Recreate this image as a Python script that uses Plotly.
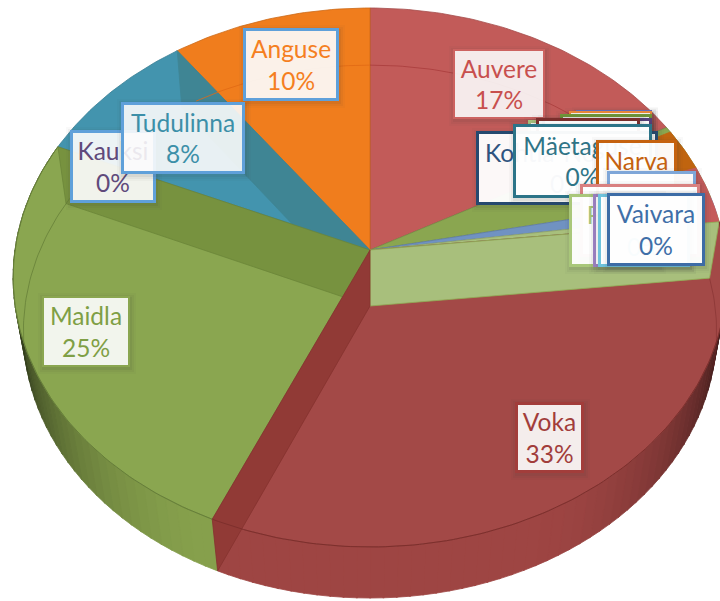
import numpy as np
import plotly.graph_objects as go

# ---- data (clockwise from 12 o'clock), percent of the pie
slice_names = ["Auvere", "Kohtla-Nõmme", "Lohusuu", "Püssi", "Voka", "Maidla", "Kauksi", "Tudulinna", "Anguse"]
slice_values = [17.0, 4.8, 1.0, 0.5, 33.3, 25.0, 0.0, 8.4, 10.0]

# ---- data labels, painted bottom to top
label_names = ["Auvere", "Anguse", "Kauksi", "Tudulinna", "Maidla", "Voka",
               "", "", "", "", "Lohusuu", "", "Kohtla-Nõmme", "Mäetaguse",
               "Narva", "", "Optika", "Püssi", "", "", "Vaivara"]
label_pcts = ["17%", "10%", "0%", "8%", "25%", "33%",
              "", "", "", "", "0%", "", "0%", "0%",
              "0%", "0%", "0%", "0%", "0%", "0%", "0%"]

# ---- styles
slice_colors = ["#C25B59", "#8AA650", "#7092C2", "#A8BF7C", "#A34947", "#8AA650", "#6C5A8E", "#4394AE", "#F07D1D"]
text_colors = ["#C8504E", "#F57F1F", "#604A7B", "#3C8FA8", "#7F9F45", "#A23D3B",
               "#777777", "#777777", "#777777", "#777777", "#604A7B", "#777777", "#2F5480", "#2F7486",
               "#C5620F", "#7EA6D8", "#D98080", "#A9C77A", "#8E6FB5", "#5FBBD5", "#3F6FA8"]
border_colors = ["#CC6260", "#5FA0DA", "#5FA0DA", "#5FA0DA", "#8AA650", "#A23D3B",
                 "#6A6FC0", "#ED8A3A", "#6F9638", "#A8BF7C", "#553F78", "#7B2E2C", "#25496F", "#2C7488",
                 "#C5620F", "#7EA6D8", "#D98080", "#A9C77A", "#9A7FC0", "#6FC3DC", "#3D6CA6"]
border_widths = [2, 3, 3, 3, 2, 3, 2, 2, 3, 3, 3, 3, 3, 3, 3, 3, 3, 3, 3, 3, 3]
fill_alphas = [0.88, 0.9, 0.9, 0.88, 0.9, 0.9, 0.96, 0.96, 0.96, 0.96, 0.96, 0.96, 0.96, 0.96,
               0.96, 0.96, 0.96, 0.96, 0.96, 0.96, 0.96]
box_x0 = [453, 243, 70, 121, 42, 515, 576, 569, 560, 528, 542, 536, 476, 513, 596, 607, 580, 569, 593, 598, 607]
box_x1 = [545, 339, 156, 245, 130, 584, 652, 652, 652, 640, 652, 640, 658, 652, 677, 696, 700, 660, 690, 690, 705]
box_y0 = [49, 28, 130, 102, 296, 402, 110, 111, 114, 120, 118, 118, 131, 124, 140, 171, 184, 194, 194, 194, 193]
box_y1 = [119, 101, 203, 174, 367, 473, 183, 184, 187, 193, 191, 191, 205, 198, 213, 245, 257, 267, 267, 267, 266]

FONT = "Lato"
FONT_SIZE = 24.5

# ---- 3-D pie projection: top and bottom discs, with perspective
TOP = dict(cx=370, cy=250, rx=355, ry=266.7, k=0.102)
BOT = dict(cx=370, cy=306, rx=345, ry=264.0, k=0.096)


def proj(deg, disc):
    t = np.radians(np.asarray(deg, dtype=float))
    u, v = np.sin(t), -np.cos(t)
    s = 1 / (1 - disc["k"] * v)
    return disc["cx"] + disc["rx"] * u * s, disc["cy"] + disc["ry"] * v * s


def arc(a, b, disc, step=1.0):
    n = max(2, int(abs(b - a) / step) + 2)
    return proj(np.linspace(a, b, n), disc)


def blend(c, f):
    c = c.lstrip("#")
    r, g, b = int(c[:2], 16), int(c[2:4], 16), int(c[4:], 16)
    return f"rgb({int(r * f)},{int(g * f)},{int(b * f)})"


fig = go.Figure()


def poly(xs, ys, color, line=None, lw=0.8):
    fig.add_trace(go.Scatter(x=list(xs), y=list(ys), mode="lines", fill="toself", fillcolor=color,
                             line=dict(color=line or color, width=lw), hoverinfo="skip", showlegend=False))


def stroke(xs, ys, color, lw=1.0):
    fig.add_trace(go.Scatter(x=list(xs), y=list(ys), mode="lines", line=dict(color=color, width=lw),
                             hoverinfo="skip", showlegend=False))


def wall(deg, color, line=None):
    tx, ty = proj(deg, TOP)
    bx, by = proj(deg, BOT)
    poly([TOP["cx"], tx, bx, BOT["cx"], TOP["cx"]], [TOP["cy"], ty, by, BOT["cy"], TOP["cy"]], color, line)


edges = np.concatenate([[0], np.cumsum(slice_values)]) * 3.6
start = dict(zip(slice_names, edges[:-1]))
end = dict(zip(slice_names, edges[1:]))

# outer side wall with shading that darkens toward the sides of the disc
for name, base, a, b in [("Voka", "#9E4543", start["Voka"], end["Voka"]),
                         ("Maidla", "#86A04C", start["Maidla"], end["Maidla"])]:
    for d0 in np.arange(a, b, 2.0):
        d1 = min(d0 + 2.2, b)
        mid = (d0 + d1) / 2
        off = abs(mid - 180) / 90
        f = max(0.4, 1.0 - 0.68 * (max(0.0, off - 0.3) / 0.6) ** 1.5)
        tx, ty = arc(d0, d1, TOP)
        bx, by = arc(d1, d0, BOT)
        c = blend(base, f)
        poly(np.r_[tx, bx, tx[0]], np.r_[ty, by, ty[0]], c)

# top faces
for name, val, col in zip(slice_names, slice_values, slice_colors):
    if val <= 0:
        continue
    ax, ay = arc(start[name], end[name], TOP)
    poly(np.r_[TOP["cx"], ax, TOP["cx"]], np.r_[TOP["cy"], ay, TOP["cy"]], col, blend(col, 0.85), 0.8)

# darker orange / red showing round the rim behind the small slices
rim = dict(TOP, rx=TOP["rx"] * 0.8, ry=TOP["ry"] * 0.8)
for a, b, col in [(end["Auvere"] + 1.2, 71.5, "#C0640F"), (71.5, start["Voka"], "#C55A5A")]:
    ox, oy = arc(a, b, TOP)
    ix, iy = arc(b, a, rim)
    poly(np.r_[ox, ix, ox[0]], np.r_[oy, iy, oy[0]], col)

# inner walls
wall(start["Anguse"], "#3F8594")
wall(end["Maidla"], "#77923F", "#6B8538")
wall(start["Voka"], "#A8BF7C", "#8FAE55")
wall(end["Voka"], "#913A36", "#85322F")

# front rim edge and the far rim of the bottom disc seen through the faces
fx, fy = arc(start["Voka"], end["Voka"], TOP)
stroke(fx, fy, "#7E2F2C", 1.0)
fx, fy = arc(start["Maidla"], end["Maidla"], TOP)
stroke(fx, fy, "#667F38", 1.0)
for a, b, col in [(84, 103, "rgba(120,40,40,0.45)"), (262, 296, "rgba(100,125,55,0.75)"),
                  (start["Anguse"] + 3, 360, "rgba(225,105,20,0.8)"), (0, 48, "rgba(165,55,55,0.7)")]:
    rx, ry = arc(a, b, BOT)
    stroke(rx, ry, col, 1.0)

# data labels
annotations = []
for nm, pct, tc, bc, bw, fa, x0, x1, y0, y1 in zip(label_names, label_pcts, text_colors, border_colors,
                                                   border_widths, fill_alphas, box_x0, box_x1, box_y0, box_y1):
    cx, cy = (x0 + x1) / 2, (y0 + y1) / 2
    w, h = x1 - x0, y1 - y0
    for grow, alpha in [(5, 0.03), (3, 0.05), (1, 0.07)]:
        annotations.append(dict(x=cx + 1, y=cy + 2, xref="x", yref="y", text=" ", showarrow=False,
                                width=w + 2 * grow, height=h + 2 * grow, borderpad=0, borderwidth=0,
                                bgcolor=f"rgba(50,50,50,{alpha})", xanchor="center", yanchor="middle"))
    text = f"{nm}<br>{pct}" if nm else (f" <br>{pct}" if pct else " ")
    annotations.append(dict(x=cx, y=cy, xref="x", yref="y", text=text, showarrow=False, align="center",
                            width=w - 2 * bw, height=h - 2 * bw, borderpad=0, borderwidth=bw,
                            bordercolor=bc, bgcolor=f"rgba(255,255,255,{fa})", valign="middle",
                            font=dict(family=FONT, size=FONT_SIZE, color=tc),
                            xanchor="center", yanchor="middle"))

fig.update_layout(width=720, height=601, margin=dict(l=0, r=0, t=0, b=0), paper_bgcolor="white",
                  plot_bgcolor="white", showlegend=False, annotations=annotations,
                  xaxis=dict(range=[0, 720], visible=False, fixedrange=True),
                  yaxis=dict(range=[601, 0], visible=False, fixedrange=True))
fig.write_html("out.html", config={"displayModeBar": False},
               post_script="document.documentElement.style.margin='0';document.body.style.margin='0';document.body.style.overflow='hidden';")
